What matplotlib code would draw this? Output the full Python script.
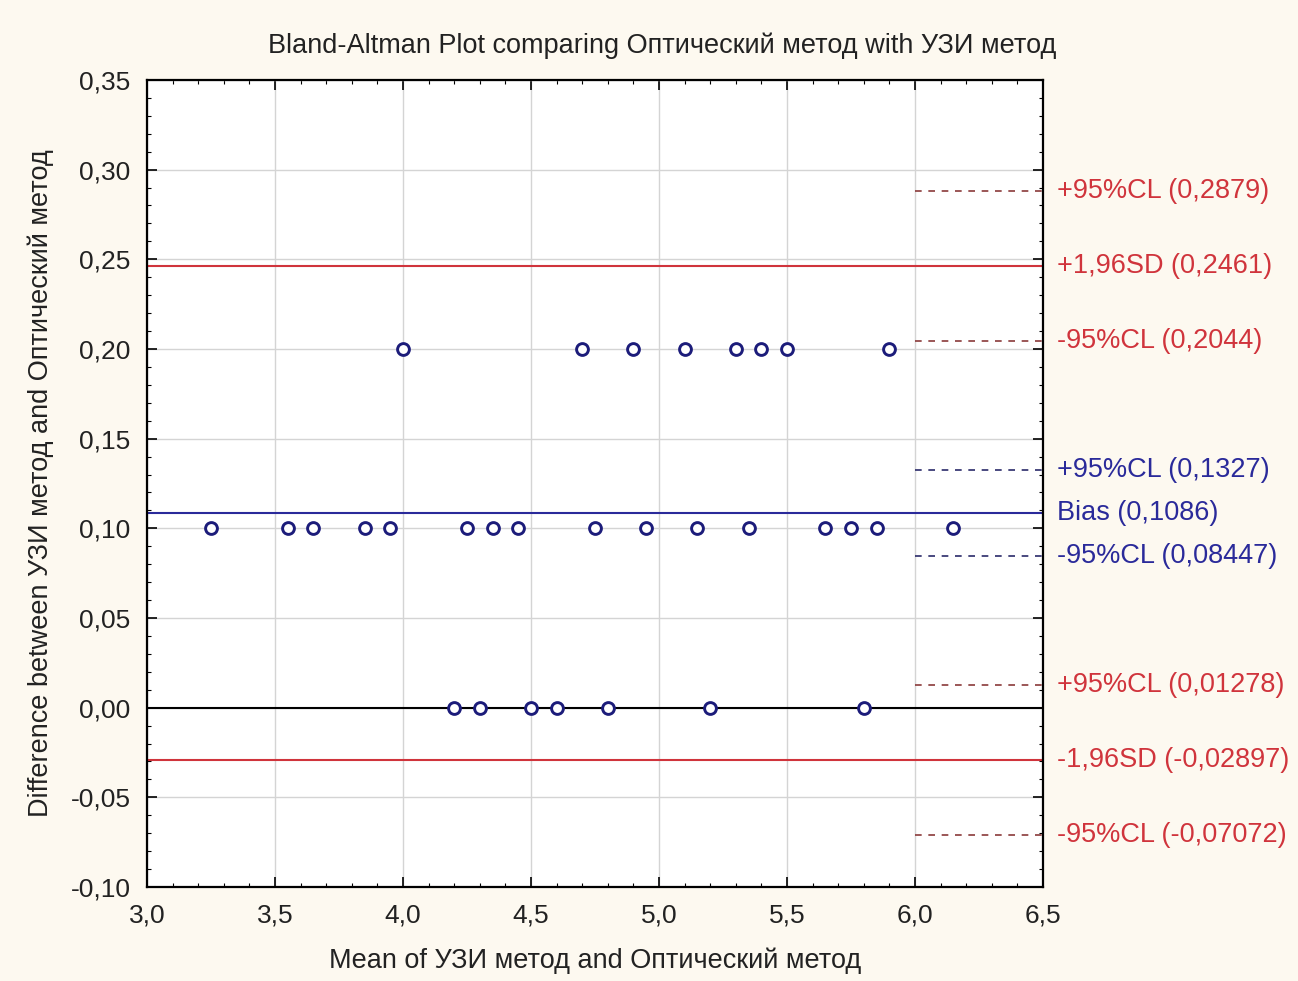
import matplotlib
matplotlib.use("Agg")
import matplotlib.pyplot as plt
from matplotlib.ticker import MultipleLocator, FuncFormatter

plt.rcParams['font.family'] = ['Liberation Sans', 'DejaVu Sans']

# data
x_hi = [4.0, 4.7, 4.9, 5.1, 5.3, 5.4, 5.5, 5.9]
x_mid = [3.25, 3.55, 3.65, 3.85, 3.95, 4.25, 4.35, 4.45, 4.75, 4.95,
         5.15, 5.35, 5.65, 5.75, 5.85, 6.15]
x_zero = [4.2, 4.3, 4.5, 4.6, 4.8, 5.2, 5.8]
diff_hi = [0.2] * len(x_hi)
diff_mid = [0.1] * len(x_mid)
diff_zero = [0.0] * len(x_zero)

bias = 0.1086
bias_cl = [0.1327, 0.08447]
upper_sd = 0.2461
upper_cl = [0.2879, 0.2044]
lower_sd = -0.02897
lower_cl = [0.01278, -0.07072]

red = '#d0343c'
blue = '#2a2a9a'
navy = '#1c1c7a'
bg = '#fdf9f0'
txtc = '#222222'

fig = plt.figure(figsize=(12.98, 9.81), dpi=100, facecolor=bg)
ax = fig.add_axes([0.1133, 0.0958, 0.6902, 0.8227])
ax.set_facecolor('white')

ax.grid(True, color='#d4d4d4', linewidth=1.0, zorder=0)
ax.set_axisbelow(True)

ax.axhline(0, color='black', linewidth=1.5, zorder=2)
ax.axhline(upper_sd, color=red, linewidth=1.5, zorder=2)
ax.axhline(lower_sd, color=red, linewidth=1.5, zorder=2)
ax.axhline(bias, color=blue, linewidth=1.5, zorder=2)

# confidence limits: short dashed segments at the right edge
for y in upper_cl + lower_cl:
    ax.plot([6.0, 6.5], [y, y], color='#8a3a3a', linestyle=(0, (4, 4)),
            linewidth=1.2, zorder=2)
for y in bias_cl:
    ax.plot([6.0, 6.5], [y, y], color='#2a2a6a', linestyle=(0, (4, 4)),
            linewidth=1.2, zorder=2)

for xs, ys in [(x_hi, diff_hi), (x_mid, diff_mid), (x_zero, diff_zero)]:
    ax.plot(xs, ys, linestyle='none', marker='o', markersize=8.5,
            markerfacecolor='white', markeredgecolor=navy,
            markeredgewidth=2.1, zorder=3)

ax.set_xlim(3.0, 6.5)
ax.set_ylim(-0.10, 0.35)
ax.xaxis.set_major_locator(MultipleLocator(0.5))
ax.xaxis.set_minor_locator(MultipleLocator(0.1))
ax.yaxis.set_major_locator(MultipleLocator(0.05))
ax.yaxis.set_minor_locator(MultipleLocator(0.01))
ax.xaxis.set_major_formatter(FuncFormatter(lambda v, p: ('%.1f' % v).replace('.', ',')))
ax.yaxis.set_major_formatter(FuncFormatter(lambda v, p: ('%.2f' % v).replace('.', ',').replace('-0,00', '0,00')))

ax.tick_params(which='both', direction='in', top=True, right=True,
               labelsize=19, labelcolor=txtc)
ax.tick_params(axis='y', which='major', length=7, width=1.2, pad=12)
ax.tick_params(axis='x', which='major', length=7, width=1.2, pad=12)
ax.tick_params(which='minor', length=3, width=0.8)
for s in ax.spines.values():
    s.set_linewidth(1.6)

# title sits a bit right of the axes centre in the original
fig.text(0.51, 0.953, 'Bland-Altman Plot comparing Оптический метод with УЗИ метод',
         ha='center', va='center', fontsize=19.5, color=txtc)
ax.set_xlabel('Mean of УЗИ метод and Оптический метод', fontsize=19.5,
              labelpad=14, color=txtc)
ax.set_ylabel('Difference between УЗИ метод and Оптический метод',
              fontsize=19.5, labelpad=12, color=txtc)


def fmt(v):
    return ('%g' % v).replace('.', ',')


labels = [
    (upper_cl[0], '+95%%CL (%s)' % fmt(upper_cl[0]), red),
    (upper_sd, '+1,96SD (%s)' % fmt(upper_sd), red),
    (upper_cl[1], '-95%%CL (%s)' % fmt(upper_cl[1]), red),
    (bias_cl[0], '+95%%CL (%s)' % fmt(bias_cl[0]), blue),
    (bias, 'Bias (%s)' % fmt(bias), blue),
    (bias_cl[1], '-95%%CL (%s)' % fmt(bias_cl[1]), blue),
    (lower_cl[0], '+95%%CL (%s)' % fmt(lower_cl[0]), red),
    (lower_sd, '-1,96SD (%s)' % fmt(lower_sd), red),
    (lower_cl[1], '-95%%CL (%s)' % fmt(lower_cl[1]), red),
]
for y, txt, c in labels:
    ax.annotate(txt, xy=(1.0, y), xycoords=('axes fraction', 'data'),
                xytext=(14, 0), textcoords='offset pixels',
                va='center', ha='left', fontsize=19.5, color=c,
                annotation_clip=False)

fig.savefig('out.png', dpi=100, facecolor=bg)
